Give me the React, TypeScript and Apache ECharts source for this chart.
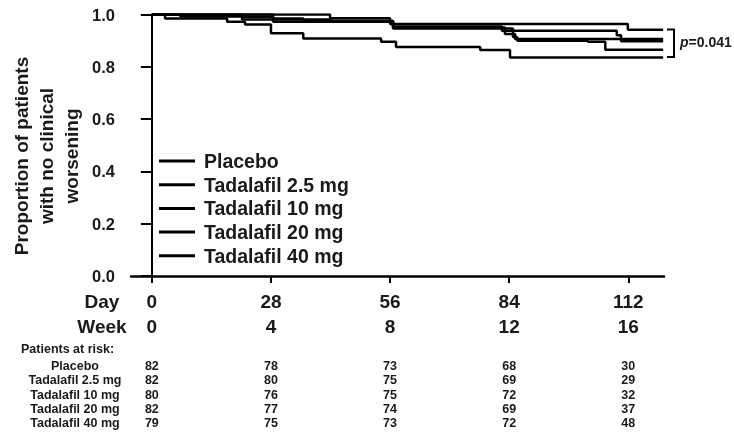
import React, { useEffect, useRef } from "react";
import * as echarts from "echarts";

const dayTicks = [0, 28, 56, 84, 112];
const weekTicks = [0, 4, 8, 12, 16];
const groups = ["Placebo", "Tadalafil 2.5 mg", "Tadalafil 10 mg", "Tadalafil 20 mg", "Tadalafil 40 mg"];

// Kaplan-Meier step points [day, proportion]
const placeboCurve = [[0, 1], [3.1, 0.985], [17.7, 0.972], [21.9, 0.962], [28.0, 0.928], [35.6, 0.908], [53.9, 0.896], [57.4, 0.876], [77.2, 0.864], [84.2, 0.836], [120.2, 0.836]];
const t25Curve = [[0, 1], [21.2, 0.99], [28.5, 0.985], [35.6, 0.975], [56.7, 0.954], [82.3, 0.938], [109.3, 0.921], [110.3, 0.898], [120.2, 0.898]];
const t10Curve = [[0, 1], [6.7, 0.992], [21.2, 0.981], [28.5, 0.972], [56.7, 0.95], [83.0, 0.925], [85.4, 0.906], [120.2, 0.906]];
const t20Curve = [[0, 1], [28.5, 0.981], [42.0, 0.975], [56.7, 0.946], [84.9, 0.914], [85.9, 0.9], [102.5, 0.896], [106.6, 0.865], [120.2, 0.865]];
const t40Curve = [[0, 1], [41.9, 0.986], [56.0, 0.964], [111.9, 0.942], [120.2, 0.942]];
const curves = [placeboCurve, t25Curve, t10Curve, t20Curve, t40Curve];

const atRiskPlacebo = [82, 78, 73, 68, 30];
const atRisk25 = [82, 80, 75, 69, 29];
const atRisk10 = [80, 76, 75, 72, 32];
const atRisk20 = [82, 77, 74, 69, 37];
const atRisk40 = [79, 75, 73, 72, 48];
const atRisk = [atRiskPlacebo, atRisk25, atRisk10, atRisk20, atRisk40];

const pValue = "0.041";

const FONT = "'Liberation Sans', Arial, Helvetica, sans-serif";
const X_MIN = -4.9;
const X_MAX = 120.4;
const rowY = [365.5, 380, 394.5, 408.5, 423];

export default function App() {
  const ref = useRef<HTMLDivElement>(null);
  useEffect(() => {
    if (!ref.current) return;
    const chart = echarts.init(ref.current, undefined, { renderer: "svg" });
    const gridBottomY = 276;

    const riskAxes = atRisk.map((row, i) => ({
      type: "value",
      gridIndex: 0,
      position: "bottom",
      min: X_MIN,
      max: X_MAX,
      axisLine: { show: false },
      axisTick: { show: false },
      splitLine: { show: false },
      axisLabel: {
        customValues: dayTicks,
        formatter: (v: number) => {
          const k = dayTicks.indexOf(v);
          return k >= 0 ? String(row[k]) : "";
        },
        fontSize: 12.5,
        fontWeight: "bold",
        fontFamily: FONT,
        color: "#1a1a1a",
        lineHeight: 14,
        margin: rowY[i] - gridBottomY - 7,
      },
    }));

    const option: any = {
      animation: false,
      grid: { left: 131, right: 70, top: 14.5, bottom: 160, containLabel: false },
      legend: {
        data: groups,
        orient: "vertical",
        left: 159,
        top: 151,
        padding: 0,
        icon: "rect",
        itemWidth: 36,
        itemHeight: 3,
        itemGap: 3.7,
        selectedMode: false,
        textStyle: { fontSize: 19.5, fontWeight: "bold", fontFamily: FONT, color: "#1a1a1a", lineHeight: 20, padding: [0, 0, 0, 4] },
      },
      xAxis: [
        {
          type: "value",
          min: X_MIN,
          max: X_MAX,
          axisLine: { lineStyle: { color: "#000", width: 2.5 } },
          axisTick: { customValues: dayTicks, length: 7, lineStyle: { color: "#000", width: 2 } },
          splitLine: { show: false },
          axisLabel: {
            customValues: dayTicks,
            formatter: (v: number) => {
              const k = dayTicks.indexOf(v);
              return k >= 0 ? `${dayTicks[k]}\n${weekTicks[k]}` : "";
            },
            fontSize: 19,
            fontWeight: "bold",
            fontFamily: FONT,
            color: "#1a1a1a",
            lineHeight: 25,
            margin: 12.5,
          },
        },
        ...riskAxes,
      ],
      yAxis: {
        type: "value",
        min: 0,
        max: 1,
        interval: 0.2,
        axisLine: { show: true, lineStyle: { color: "#000", width: 2 } },
        axisTick: { show: true, length: 11, lineStyle: { color: "#000", width: 2 } },
        splitLine: { show: false },
        axisLabel: {
          formatter: (v: number) => v.toFixed(1),
          fontSize: 16.5,
          fontWeight: "bold",
          fontFamily: FONT,
          color: "#1a1a1a",
          margin: 16,
        },
      },
      series: curves.map((c, i) => ({
        name: groups[i],
        type: "line",
        step: "end",
        symbol: "none",
        color: "#000",
        lineStyle: { color: "#000", width: 2.5 },
        data: c,
      })),
      graphic: [
        {
          type: "text",
          x: 46,
          y: 156,
          rotation: Math.PI / 2,
          style: {
            text: "Proportion of patients\nwith no clinical\nworsening",
            fontSize: 19,
            fontWeight: "bold",
            fontFamily: FONT,
            fill: "#1a1a1a",
            lineHeight: 25,
            align: "center",
            verticalAlign: "middle",
          },
        },
        {
          type: "text",
          x: 102,
          y: 301,
          style: { text: "Day", fontSize: 19, fontWeight: "bold", fontFamily: FONT, fill: "#1a1a1a", align: "center", verticalAlign: "middle" },
        },
        {
          type: "text",
          x: 102,
          y: 326,
          style: { text: "Week", fontSize: 19, fontWeight: "bold", fontFamily: FONT, fill: "#1a1a1a", align: "center", verticalAlign: "middle" },
        },
        {
          type: "text",
          x: 21,
          y: 349,
          style: { text: "Patients at risk:", fontSize: 12.5, fontWeight: "bold", fontFamily: FONT, fill: "#1a1a1a", align: "left", verticalAlign: "middle" },
        },
        ...groups.map((g, i) => ({
          type: "text",
          x: 75,
          y: rowY[i],
          style: { text: g, fontSize: 12.5, fontWeight: "bold", fontFamily: FONT, fill: "#1a1a1a", align: "center", verticalAlign: "middle" },
        })),
        {
          type: "polyline",
          shape: { points: [[667, 29.5], [674, 29.5], [674, 57], [667, 57]] },
          style: { stroke: "#000", lineWidth: 2, fill: "none" },
        },
        {
          type: "text",
          x: 680,
          y: 42,
          style: {
            text: `{i|p}=${pValue}`,
            fontSize: 14,
            fontWeight: "bold",
            fontFamily: FONT,
            fill: "#1a1a1a",
            align: "left",
            verticalAlign: "middle",
            rich: { i: { fontStyle: "italic", fontSize: 14, fontWeight: "bold", fontFamily: FONT, fill: "#1a1a1a" } },
          },
        },
      ],
    };
    chart.setOption(option);
    return () => chart.dispose();
  }, []);
  return <div ref={ref} style={{ position: "fixed", left: 0, top: 0, width: 734, height: 436 }} />;
}
